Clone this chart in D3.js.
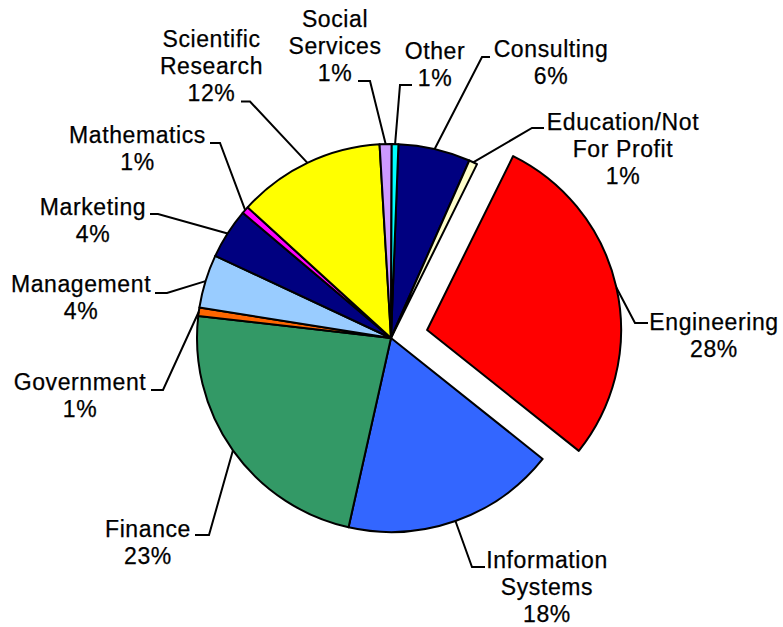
<!DOCTYPE html>
<html>
<head>
<meta charset="utf-8">
<script src="https://cdn.jsdelivr.net/npm/d3@7"></script>
<style>
  html, body { margin: 0; padding: 0; background: #fff; }
  svg { display: block; }
  text { font-family: "Liberation Sans", Arial, sans-serif; font-size: 23px; letter-spacing: 0.6px; fill: #000; stroke: #000; stroke-width: 0.25px; }
</style>
</head>
<body>
<svg id="chart" width="783" height="627"></svg>
<script>
// ---- data ----
const categories = ["Consulting", "Education/Not For Profit", "Engineering", "Information Systems",
  "Finance", "Government", "Management", "Marketing", "Mathematics", "Scientific Research",
  "Social Services", "Other"];
const values = [6.0, 0.7, 28.4, 17.8, 23.3, 0.7, 4.45, 4.2, 0.6, 12.3, 1.0, 0.55];
const colors = ["#000080", "#FFFFCC", "#FF0000", "#3366FF", "#339966", "#FF6600",
  "#99CCFF", "#000080", "#FF00FF", "#FFFF00", "#CC99FF", "#00FFFF"];
const exploded = ["Engineering"];
const labelLines = {
  "Education/Not For Profit": ["Education/Not", "For Profit"],
  "Information Systems": ["Information", "Systems"],
  "Scientific Research": ["Scientific", "Research"],
  "Social Services": ["Social", "Services"]
};

// ---- layout ----
const cx = 391, cy = 338, R = 194, explodeDist = 37;
const startDeg = 2.2;
const lineH = 27;
// label text centre x / first baseline y, leader elbow, end of horizontal tick
const labelLayout = {
  "Consulting": { tx: 551, ty: 57, ex: 482, ey: 57, hx: 490 },
  "Education/Not For Profit": { tx: 623, ty: 130, ex: 532, ey: 128, hx: 544 },
  "Engineering": { tx: 714, ty: 330, ex: 635, ey: 323, hx: 648 },
  "Information Systems": { tx: 547, ty: 568, ex: 472, ey: 567, hx: 485 },
  "Finance": { tx: 148, ty: 537, ex: 209, ey: 535, hx: 195 },
  "Government": { tx: 80, ty: 390, ex: 163, ey: 390, hx: 151 },
  "Management": { tx: 81, ty: 292, ex: 167, ey: 293, hx: 155 },
  "Marketing": { tx: 93, ty: 215, ex: 158, ey: 214, hx: 150 },
  "Mathematics": { tx: 137.5, ty: 143, ex: 220, ey: 143, hx: 210 },
  "Scientific Research": { tx: 211.5, ty: 46.5, ex: 250, ey: 101.5, hx: 241 },
  "Social Services": { tx: 335, ty: 27, ex: 370, ey: 81, hx: 358 },
  "Other": { tx: 435, ty: 59, ex: 400, ey: 85, hx: 412 }
};

const data = categories.map((c, i) => ({ name: c, value: values[i], color: colors[i] }));
const total = d3.sum(values);
const start = startDeg * Math.PI / 180;

const pie = d3.pie().sort(null).value(d => d.value)
  .startAngle(start).endAngle(start + 2 * Math.PI);
const arc = d3.arc().innerRadius(0).outerRadius(R);
const arcs = pie(data);

const svg = d3.select("#chart");
const g = svg.append("g").attr("transform", `translate(${cx},${cy})`);

function offsetOf(d) {
  if (!exploded.includes(d.data.name)) return [0, 0];
  const m = (d.startAngle + d.endAngle) / 2;
  return [Math.sin(m) * explodeDist, -Math.cos(m) * explodeDist];
}

g.selectAll("path.slice").data(arcs).enter().append("path")
  .attr("class", "slice")
  .attr("d", arc)
  .attr("transform", d => { const o = offsetOf(d); return `translate(${o[0]},${o[1]})`; })
  .attr("fill", d => d.data.color)
  .attr("stroke", "#000")
  .attr("stroke-width", 2)
  .attr("stroke-linejoin", "round");

// leader lines
const leaders = svg.append("g");
arcs.forEach(d => {
  const L = labelLayout[d.data.name];
  const m = (d.startAngle + d.endAngle) / 2;
  const o = offsetOf(d);
  const sx = cx + o[0] + Math.sin(m) * R;
  const sy = cy + o[1] - Math.cos(m) * R;
  leaders.append("path")
    .attr("d", d3.line()([[sx, sy], [L.ex, L.ey], [L.hx, L.ey]]))
    .attr("fill", "none")
    .attr("stroke", "#000")
    .attr("stroke-width", 2);
});

// labels
const labels = svg.append("g");
arcs.forEach(d => {
  const L = labelLayout[d.data.name];
  const lines = (labelLines[d.data.name] || [d.data.name]).slice();
  lines.push(Math.round(d.data.value / total * 100) + "%");
  const t = labels.append("text").attr("text-anchor", "middle");
  lines.forEach((s, i) => {
    t.append("tspan").attr("x", L.tx).attr("y", L.ty + i * lineH).text(s);
  });
});
</script>
</body>
</html>
